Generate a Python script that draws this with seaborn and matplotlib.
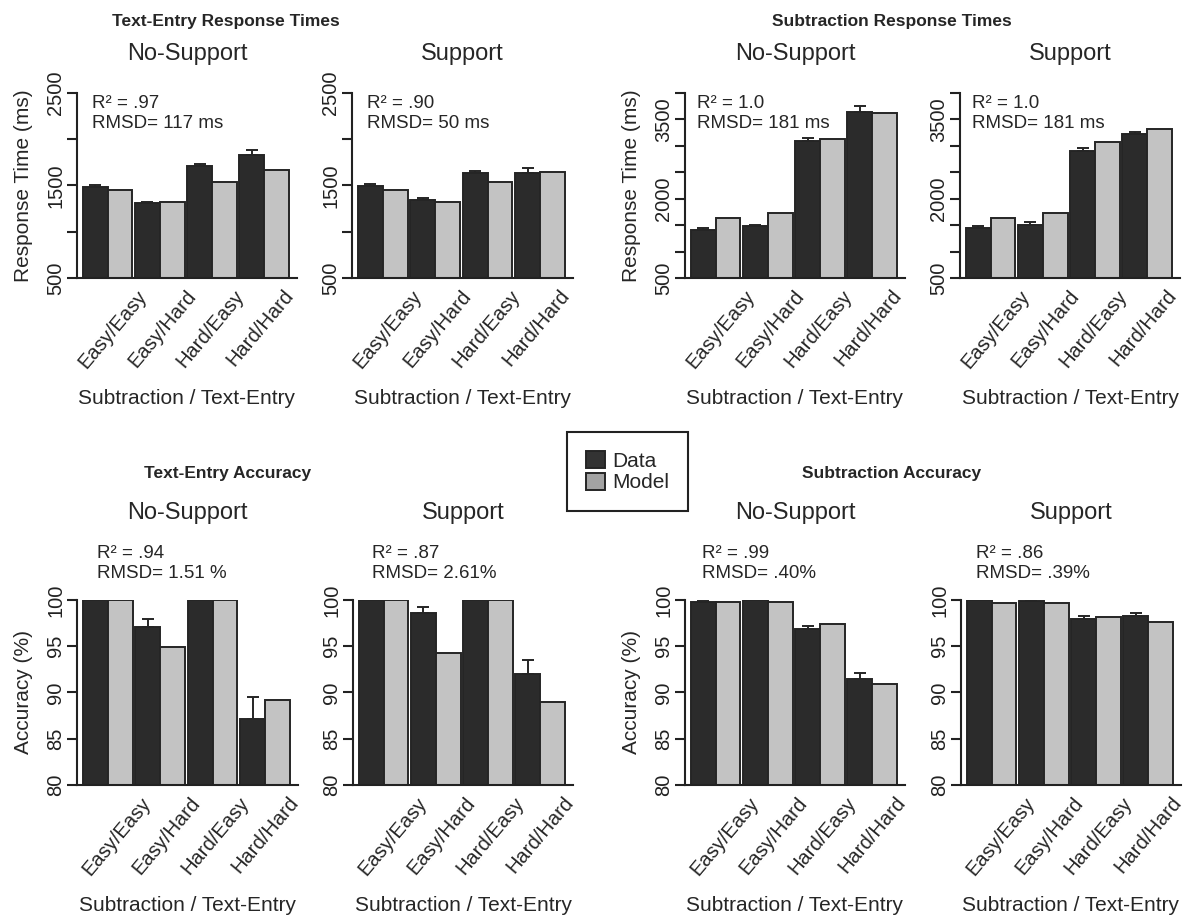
import numpy as np
import pandas as pd
import matplotlib
matplotlib.use("Agg")
import matplotlib.pyplot as plt
import seaborn as sns
from matplotlib.patches import Patch

# -----------------------------
# Data
# -----------------------------
conditions = ["Easy/Easy", "Easy/Hard", "Hard/Easy", "Hard/Hard"]

# Text-entry response times (ms)
te_rt_nosup_data = [1485, 1310, 1712, 1831]
te_rt_nosup_err = [25, 15, 22, 54]
te_rt_nosup_model = [1450, 1320, 1540, 1666]

te_rt_sup_data = [1496, 1342, 1630, 1633]
te_rt_sup_err = [22, 25, 28, 51]
te_rt_sup_model = [1450, 1320, 1536, 1648]

# Subtraction response times (ms)
sub_rt_nosup_data = [1417, 1480, 3094, 3634]
sub_rt_nosup_err = [38, 31, 50, 125]
sub_rt_nosup_model = [1637, 1731, 3138, 3615]

sub_rt_sup_data = [1442, 1511, 2905, 3219]
sub_rt_sup_err = [50, 50, 63, 50]
sub_rt_sup_model = [1630, 1725, 3069, 3313]

# Text-entry accuracy (%)
te_acc_nosup_data = [100, 97.05, 100, 87.1]
te_acc_nosup_err = [0, 0.85, 0, 2.45]
te_acc_nosup_model = [100, 94.9, 100, 89.16]

te_acc_sup_data = [100, 98.63, 100, 91.97]
te_acc_sup_err = [0, 0.65, 0, 1.53]
te_acc_sup_model = [100, 94.27, 100, 89.0]

# Subtraction accuracy (%)
sub_acc_nosup_data = [99.82, 99.96, 96.9, 91.47]
sub_acc_nosup_err = [0.1, 0.02, 0.3, 0.68]
sub_acc_nosup_model = [99.75, 99.78, 97.44, 90.96]

sub_acc_sup_data = [99.96, 99.86, 97.98, 98.27]
sub_acc_sup_err = [0.02, 0.07, 0.26, 0.33]
sub_acc_sup_model = [99.7, 99.68, 98.2, 97.62]

rt_te_ticks = [500, 1000, 1500, 2000, 2500]
rt_te_labels = ["500", "", "1500", "", "2500"]
rt_sub_ticks = [500, 1000, 1500, 2000, 2500, 3000, 3500, 4000]
rt_sub_labels = ["500", "", "", "2000", "", "", "3500", ""]
acc_ticks = [80, 85, 90, 95, 100]
acc_labels = ["80", "85", "90", "95", "100"]

# -----------------------------
# Style
# -----------------------------
sns.set_style("ticks")
plt.rcParams["font.family"] = ["Liberation Sans", "DejaVu Sans"]
DARK = "#2b2b2b"
LIGHT = "#c3c3c3"
EDGE = "#252525"
pal = {"Data": DARK, "Model": LIGHT}

W, H = 1195, 922
fig = plt.figure(figsize=(W / 100, H / 100), dpi=100)


def px(x, y):
    return x / W, 1 - y / H


def panel(rect, data, err, model, ylim, ticks, tlabels, ylabel, stats, stat_xy, lab_off):
    l, t, r, b = rect
    ax = fig.add_axes([l / W, 1 - b / H, (r - l) / W, (b - t) / H])
    df = pd.DataFrame({
        "cond": conditions * 2,
        "src": ["Data"] * 4 + ["Model"] * 4,
        "val": list(data) + list(model),
    })
    sns.barplot(data=df, x="cond", y="val", hue="src", palette=pal, saturation=1,
                width=0.95, gap=0, edgecolor=EDGE, linewidth=1.4,
                errorbar=None, legend=False, ax=ax)

    # error bars (upper half only) on the Data bars
    dbars = [p for p in ax.patches
             if np.allclose(p.get_facecolor()[:3], matplotlib.colors.to_rgb(DARK))]
    dbars = sorted(dbars, key=lambda p: p.get_x())
    xs = np.array([p.get_x() + p.get_width() / 2 for p in dbars])
    e = np.array(err)
    m = e > 0
    ax.errorbar(xs[m], np.array(data)[m], yerr=[np.zeros(m.sum()), e[m]],
                fmt="none", ecolor=EDGE, elinewidth=1.4, capsize=4, capthick=1.4)

    ax.set_xlim(-0.585, 3.63)
    ax.set_ylim(*ylim)
    ax.set_yticks(ticks, labels=tlabels, fontsize=14.5)
    for lab in ax.get_yticklabels():
        lab.set_rotation(90)
        lab.set_va("center")
    ax.tick_params(axis="y", direction="out", length=7, width=1.5, pad=1.5, colors="#222222")
    ax.tick_params(axis="x", length=0, pad=6)
    ax.set_xticks(lab_off + 0.935 * np.arange(4))
    ax.set_xticklabels(conditions, rotation=50, ha="right", va="top",
                       rotation_mode="anchor", fontsize=14.5)
    ax.spines[["top", "right"]].set_visible(False)
    for s in ["left", "bottom"]:
        ax.spines[s].set_linewidth(1.5)
        ax.spines[s].set_color("#222222")
    ax.set_xlabel("Subtraction / Text-Entry", fontsize=15)
    ax.xaxis.set_label_coords(0.5, -0.6)
    ax.xaxis.label.set_va("top")
    if ylabel:
        ax.set_ylabel(ylabel, fontsize=15)
        ax.yaxis.set_label_coords(-0.2, 0.5)
    else:
        ax.set_ylabel("")
    sx, sy = stat_xy
    fig.text(*px(sx, sy), stats[0], fontsize=13.5, va="center", ha="left")
    fig.text(*px(sx, sy + 20), stats[1], fontsize=13.5, va="center", ha="left")
    return ax


# top row: response times
panel((77, 93, 297, 278), te_rt_nosup_data, te_rt_nosup_err, te_rt_nosup_model,
      (500, 2500), rt_te_ticks, rt_te_labels, "Response Time (ms)",
      ("R² = .97", "RMSD= 117 ms"), (92, 103), 0.55)
panel((352, 93, 573, 278), te_rt_sup_data, te_rt_sup_err, te_rt_sup_model,
      (500, 2500), rt_te_ticks, rt_te_labels, None,
      ("R² = .90", "RMSD= 50 ms"), (367, 103), 0.55)
panel((685, 93, 905, 278), sub_rt_nosup_data, sub_rt_nosup_err, sub_rt_nosup_model,
      (500, 4000), rt_sub_ticks, rt_sub_labels, "Response Time (ms)",
      ("R² = 1.0", "RMSD= 181 ms"), (697, 103), 0.55)
panel((960, 93, 1180, 278), sub_rt_sup_data, sub_rt_sup_err, sub_rt_sup_model,
      (500, 4000), rt_sub_ticks, rt_sub_labels, None,
      ("R² = 1.0", "RMSD= 181 ms"), (972, 103), 0.55)

# bottom row: accuracy
panel((77, 600, 298, 785), te_acc_nosup_data, te_acc_nosup_err, te_acc_nosup_model,
      (80, 100), acc_ticks, acc_labels, "Accuracy (%)",
      ("R² = .94", "RMSD= 1.51 %"), (97, 553), 0.62)
panel((353, 600, 573, 785), te_acc_sup_data, te_acc_sup_err, te_acc_sup_model,
      (80, 100), acc_ticks, acc_labels, None,
      ("R² = .87", "RMSD= 2.61%"), (372, 553), 0.62)
panel((685, 600, 905, 785), sub_acc_nosup_data, sub_acc_nosup_err, sub_acc_nosup_model,
      (80, 100), acc_ticks, acc_labels, "Accuracy (%)",
      ("R² = .99", "RMSD= .40%"), (702, 553), 0.62)
panel((961, 600, 1181, 785), sub_acc_sup_data, sub_acc_sup_err, sub_acc_sup_model,
      (80, 100), acc_ticks, acc_labels, None,
      ("R² = .86", "RMSD= .39%"), (976, 553), 0.62)

# titles
fig.text(*px(226, 26), "Text-Entry Response Times", fontsize=12.5, weight="bold", ha="center", va="baseline")
fig.text(*px(892, 26), "Subtraction Response Times", fontsize=12.5, weight="bold", ha="center", va="baseline")
fig.text(*px(228, 478), "Text-Entry Accuracy", fontsize=12.5, weight="bold", ha="center", va="baseline")
fig.text(*px(892, 478), "Subtraction Accuracy", fontsize=12.5, weight="bold", ha="center", va="baseline")
for cx, cy, s in [(187, 60, "No-Support"), (462, 60, "Support"),
                  (795, 60, "No-Support"), (1070, 60, "Support"),
                  (187, 519, "No-Support"), (463, 519, "Support"),
                  (795, 519, "No-Support"), (1071, 519, "Support")]:
    fig.text(*px(cx, cy), s, fontsize=17, ha="center", va="baseline")

# legend
handles = [Patch(facecolor="#333333", edgecolor=EDGE, linewidth=1.4),
           Patch(facecolor="#a3a3a3", edgecolor=EDGE, linewidth=1.4)]
leg = fig.legend(handles, ["Data", "Model"], loc="upper left",
                 bbox_to_anchor=px(567, 432), borderaxespad=0, fontsize=15,
                 fancybox=False, edgecolor="#222222", framealpha=1,
                 handlelength=0.9, handleheight=0.9, handletextpad=0.35,
                 labelspacing=0.1, borderpad=0.9)
leg.get_frame().set_linewidth(1.5)

fig.savefig("out.png", dpi=100)
